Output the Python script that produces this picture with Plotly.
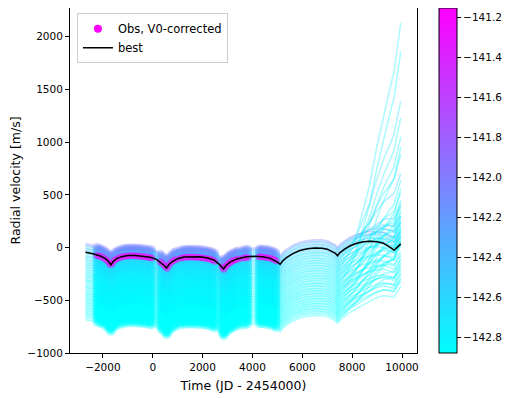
import plotly.graph_objects as go
from plotly.colors import sample_colorscale

# model time grid and best-fit curve
t_model = [-2700, -2400, -2100, -1900, -1780, -1680, -1580, -1450, -1250, -1000,
           -700, -400, -100, 150, 350, 470, 550, 650, 800, 1000,
           1250, 1600, 1900, 2200, 2450, 2650, 2760, 2840, 2940, 3100,
           3350, 3700, 4050, 4400, 4700, 4900, 5020, 5107, 5200, 5350,
           5600, 5900, 6200, 6500, 6800, 7000, 7200, 7330, 7413, 7500,
           7680, 7900, 8150, 8450, 8700, 9000, 9250, 9450, 9600, 9680,
           9800, 9950]
best_rv = [-44, -58, -80, -105, -130, -165, -130, -105, -86, -76,
           -74, -80, -92, -112, -145, -172, -193, -160, -130, -105,
           -90, -86, -88, -98, -118, -155, -180, -202, -170, -138,
           -110, -90, -83, -86, -100, -122, -140, -160, -130, -98,
           -60, -28, -12, -5, -6, -15, -35, -55, -78, -50,
           -18, 15, 38, 55, 60, 55, 42, 15, -10, -26,
           5, 35]
# relative shape of the late-time divergence of the posterior curves
tail_shape = [0] * 49 + [0.0, 0.01, 0.04, 0.09, 0.2, 0.3, 0.47, 0.6,
                         0.7, 0.78, 0.82, 0.9, 1.0]

# observation times and V0-corrected RVs for the best sample
obs_time = [-2250, -2150, -2050, -1950, -1850, -1760, -1700, -1620, -1530, -1430,
            -1330, -1230, -1130, -1030, -930, -830, -730, -630, -530, -430,
            -330, -230, -130, -30,
            300, 400, 500, 570, 650, 750, 850, 950, 1100, 1200,
            1300, 1400, 1500, 1600, 1700, 1800, 1900, 2000, 2100, 2200,
            2300, 2400, 2500,
            2780, 2850, 2920, 3000, 3080, 3160, 3250, 3350, 3450,
            3620, 3720, 3820,
            4260, 4350, 4450, 4550, 4650, 4750, 4850, 4950]
obs_rv = [-72, -80, -88, -100, -118, -140, -160, -148, -120, -105,
          -95, -88, -82, -80, -78, -76, -78, -80, -80, -84,
          -86, -90, -94, -98,
          -135, -155, -178, -195, -168, -140, -122, -110, -100, -95,
          -92, -90, -90, -90, -92, -92, -94, -96, -100, -104,
          -110, -118, -130,
          -185, -205, -180, -160, -145, -132, -122, -112, -106,
          -98, -94, -92,
          -88, -88, -90, -92, -96, -102, -110, -125]

# posterior samples: offset from best, V0 value, RV at the right edge
sample_shift = [80, 66, 57, 41, 33, 18, 9, -6, -15, -30,
                -41, -50, -66, -74, -90, -99, -114, -122, -137, -146,
                -161, -170, -186, -195, -210, -218, -233, -243, -258, -266,
                -281, -290, -305, -315, -330, -338, -353, -362, -378, -386,
                -401, -410, -425, -434, -449, -458, -474, -482, -497, -506,
                -521, -530, -545, -554, -569, -578, -593, -606, -621, -640]
sample_v0 = [-142.0, -142.3, -142.42, -142.46, -142.5, -142.52, -142.55, -142.58, -142.6, -142.63,
             -142.66, -142.68, -142.7, -142.71, -142.72, -142.73, -142.74, -142.75, -142.76, -142.77,
             -142.78, -142.78, -142.79, -142.79, -142.8, -142.8, -142.81, -142.81, -142.82, -142.82,
             -142.83, -142.83, -142.83, -142.84, -142.84, -142.84, -142.85, -142.85, -142.85, -142.86,
             -142.86, -142.86, -142.86, -142.87, -142.87, -142.87, -142.87, -142.87, -142.88, -142.88,
             -142.88, -142.88, -142.88, -142.88, -142.88, -142.88, -142.88, -142.88, -142.88, -142.88]
sample_end = [150, 230, 120, 300, 180, 90, 400, 60, 260, 700,
              140, 330, 1390, 20, 210, 880, 100, 380, 2130, 160,
              520, -40, 1230, 290, 60, 1050, 240, -80, 450, 120,
              1860, -120, 350, 30, 640, -150, 180, -60, 950, 250,
              -200, 100, 420, -220, 20, 560, -180, 150, -260, 300,
              -100, -290, 60, -240, 200, -320, -150, -300, 80, -370]

x_ticks = [-2000, 0, 2000, 4000, 6000, 8000, 10000]
x_ticktext = ["−2000", "0", "2000", "4000", "6000", "8000", "10000"]
y_ticks = [-1000, -500, 0, 500, 1000, 1500, 2000]
y_ticktext = ["−1000", "−500", "0", "500", "1000", "1500", "2000"]
cb_ticks = [-142.8, -142.6, -142.4, -142.2, -142.0, -141.8, -141.6, -141.4, -141.2]

V0_MIN, V0_MAX = -142.88, -141.155
COOL = [[0, "#00ffff"], [1, "#ff00ff"]]

fig = go.Figure()

# posterior curves
for shift, v0, end in zip(sample_shift, sample_v0, sample_end):
    amp = end - best_rv[-1] - shift
    rv = [b + shift + amp * s for b, s in zip(best_rv, tail_shape)]
    col = sample_colorscale(COOL, [(v0 - V0_MIN) / (V0_MAX - V0_MIN)])[0]
    fig.add_trace(go.Scatter(x=t_model, y=rv, mode="lines", showlegend=False,
                             line=dict(color=col, width=1.5), opacity=0.35,
                             hoverinfo="skip"))

# V0-corrected obs for each sample (lowest first, so upper ones sit on top)
px_, py_, pc_ = [], [], []
for shift, v0 in reversed(list(zip(sample_shift, sample_v0))):
    px_ += obs_time
    py_ += [r + shift for r in obs_rv]
    pc_ += [v0] * len(obs_time)
fig.add_trace(go.Scatter(
    x=px_, y=py_, mode="markers", showlegend=False,
    marker=dict(size=8, color=pc_, colorscale=COOL, cmin=V0_MIN, cmax=V0_MAX,
                opacity=0.25, line=dict(width=0),
                colorbar=dict(x=1.063, xanchor="left", xpad=0, ypad=0,
                              thickness=18, len=1, y=0.5, yanchor="middle",
                              outlinewidth=1, outlinecolor="black",
                              ticks="outside", ticklen=4, tickcolor="black",
                              tickvals=cb_ticks,
                              ticktext=["−%.1f" % abs(v) for v in cb_ticks],
                              tickfont=dict(size=10.5, color="black")))))

fig.add_trace(go.Scatter(x=obs_time, y=obs_rv, mode="markers", showlegend=False,
                         marker=dict(color="#ff00ff", size=7, opacity=0.5)))
# legend entry with a solid marker
fig.add_trace(go.Scatter(x=[None], y=[None], mode="markers", name="Obs, V0-corrected",
                         marker=dict(color="#ff00ff", size=8)))

fig.add_trace(go.Scatter(x=t_model, y=best_rv, mode="lines", name="best",
                         line=dict(color="black", width=1.5)))

axis = dict(showline=True, linecolor="black", linewidth=1, mirror=True,
            ticks="outside", ticklen=4, tickcolor="black", showgrid=False,
            zeroline=False, automargin=False,
            tickfont=dict(size=10.5, color="black"))
# page body has an 8px margin, so the figure is 8px smaller than the window
fig.update_layout(
    width=506, height=390,
    margin=dict(l=62, r=97, t=0, b=45, autoexpand=False),
    plot_bgcolor="white", paper_bgcolor="white",
    font=dict(family="DejaVu Sans", color="black"),
    xaxis=dict(axis, range=[-3320, 10600], tickvals=x_ticks, ticktext=x_ticktext,
               title=dict(text="Time (JD - 2454000)", font=dict(size=12.5), standoff=9)),
    yaxis=dict(axis, range=[-1000, 2273], tickvals=y_ticks, ticktext=y_ticktext,
               title=dict(text="Radial velocity [m/s]", font=dict(size=12.5), standoff=19)),
    legend=dict(x=0.02, y=0.985, xanchor="left", yanchor="top",
                bgcolor="rgba(255,255,255,0.9)", bordercolor="#cccccc", borderwidth=1,
                font=dict(size=11.5), tracegroupgap=0),
)

fig.write_html("out.html")
